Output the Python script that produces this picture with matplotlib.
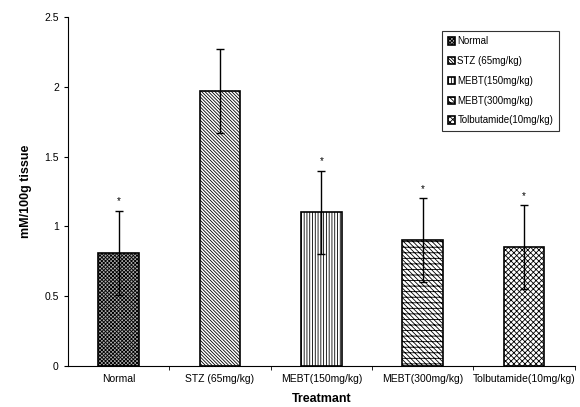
import matplotlib
matplotlib.use("Agg")
import matplotlib.pyplot as plt
import numpy as np

plt.rcParams['font.family'] = ['Liberation Sans', 'DejaVu Sans']
plt.rcParams['hatch.linewidth'] = 0.6

# data
groups = ["Normal", "STZ (65mg/kg)", "MEBT(150mg/kg)", "MEBT(300mg/kg)", "Tolbutamide(10mg/kg)"]
legend_names = ["Normal", "STZ (65mg/kg)", "MEBT(150mg/kg)", "MEBT(300mg/kg)", "Tolbutamide(10mg/kg)"]
means = [0.81, 1.97, 1.10, 0.90, 0.85]
sds = [0.30, 0.30, 0.30, 0.30, 0.30]
signif = [True, False, True, True, True]

hatches = ["xxxxxxxxx", "\\\\\\\\\\\\\\\\\\\\", "||||||", "\\\\\\\\\\\\\\---", "xxxxxx"]
faces = ["#b0b0b0", "white", "white", "white", "white"]

fig = plt.figure(figsize=(5.8, 4.07), dpi=100)
ax = fig.add_axes([0.117, 0.1007, 0.874, 0.8575])

x = np.arange(len(groups))
for i in range(len(groups)):
    ax.bar(x[i], means[i], width=0.4, color=faces[i], edgecolor="black",
           hatch=hatches[i], linewidth=1.2, label=legend_names[i], zorder=2)
ax.errorbar(x, means, yerr=sds, fmt="none", ecolor="black", elinewidth=1,
            capsize=3, capthick=1, zorder=3)
for i in range(len(groups)):
    if signif[i]:
        ax.text(x[i], means[i] + sds[i] + 0.07, "*", ha="center", va="center", fontsize=7)

ax.set_xlim(-0.5, len(groups) - 0.5)
ax.set_ylim(0, 2.5)
ax.set_yticks([0, 0.5, 1, 1.5, 2, 2.5])
ax.set_yticklabels(["0", "0.5", "1", "1.5", "2", "2.5"])
ax.set_xticks(x)
ax.set_xticklabels(groups)
ax.set_xticks(np.arange(0.5, len(groups), 1), minor=True)
ax.tick_params(axis="x", which="major", length=0, labelsize=7.5, pad=6)
ax.tick_params(axis="x", which="minor", length=3, direction="out")
ax.tick_params(axis="y", labelsize=7.5, length=3)
ax.spines["top"].set_visible(False)
ax.spines["right"].set_visible(False)

ax.set_ylabel("mM/100g tissue", fontsize=9, fontweight="bold", labelpad=4)
ax.yaxis.set_label_coords(-0.07, 0.5)
ax.set_xlabel("Treatmant", fontsize=9, fontweight="bold", labelpad=6)

leg = ax.legend(loc="upper left", bbox_to_anchor=(0.728, 0.975), fontsize=7,
                frameon=True, fancybox=False, edgecolor="black", handlelength=0.8,
                handleheight=0.8, handletextpad=0.2, labelspacing=1.0,
                borderpad=0.6)
leg.get_frame().set_linewidth(0.8)

fig.savefig("out.png", dpi=100)
